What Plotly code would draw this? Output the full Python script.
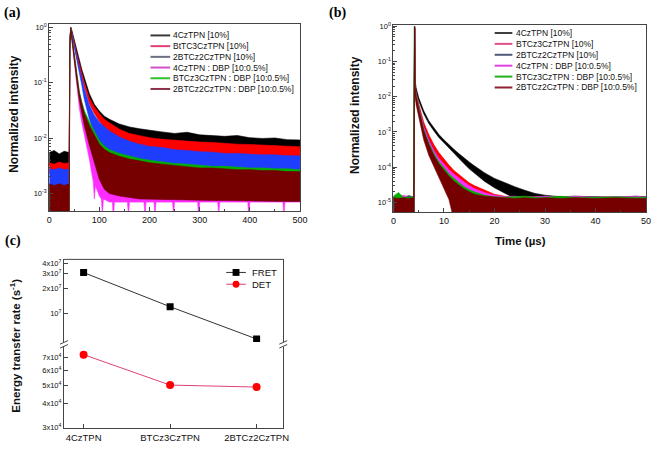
import plotly.graph_objects as go

# ---------------- DATA ----------------
# Panel (a): transient PL decay, 0-500 (time axis units as printed)
ta = [0, 10, 20, 30, 40, 41, 43, 45, 50, 55, 60, 65, 70, 80, 90, 100, 110, 120, 140, 160, 180,
      200, 225, 250, 275, 300, 325, 350, 375, 400, 425, 450, 475, 500]
a_black_up = [5.5e-3, 6e-3, 5.2e-3, 5.8e-3, 5.5e-3, 0.6, 1.0, 0.9, 0.6, 0.39, 0.25, 0.175, 0.125, 0.064, 0.041, 0.031, 0.025, 0.022, 0.018, 0.016, 0.0148,
              0.0138, 0.013, 0.0122, 0.0128, 0.0115, 0.0112, 0.0108, 0.0112, 0.0102, 0.0099, 0.0101, 0.0094, 0.0093]
a_black_lo = [3.2e-3, 3.4e-3, 3.2e-3, 3.3e-3, 3.2e-3, 0.5, 0.95, 0.8, 0.5, 0.33, 0.21, 0.145, 0.105, 0.052, 0.031, 0.022, 0.017, 0.0145, 0.012, 0.0105, 0.0095,
              0.0088, 0.0082, 0.0078, 0.0075, 0.0072, 0.007, 0.0068, 0.0066, 0.0064, 0.0063, 0.0062, 0.006, 0.0059]
a_red_up = [3.6e-3, 3.4e-3, 3.7e-3, 3.5e-3, 3.6e-3, 0.55, 1.0, 0.86, 0.54, 0.34, 0.22, 0.15, 0.1, 0.054, 0.037, 0.028, 0.022, 0.019, 0.0145, 0.0122, 0.011,
            0.0102, 0.0096, 0.0092, 0.0088, 0.0085, 0.0084, 0.008, 0.0078, 0.0077, 0.0075, 0.0073, 0.0073, 0.007]
a_red_lo = [2.3e-3, 2.4e-3, 2.3e-3, 2.4e-3, 2.3e-3, 0.45, 0.95, 0.76, 0.45, 0.28, 0.18, 0.12, 0.08, 0.042, 0.028, 0.02, 0.0155, 0.013, 0.0098, 0.0082, 0.0072,
            0.0066, 0.0061, 0.0058, 0.0055, 0.0053, 0.0051, 0.005, 0.0048, 0.0047, 0.0046, 0.0045, 0.0044, 0.0043]
a_blue_up = [2.8e-3, 2.7e-3, 2.9e-3, 2.7e-3, 2.8e-3, 0.5, 1.0, 0.84, 0.49, 0.3, 0.19, 0.12, 0.078, 0.04, 0.026, 0.0195, 0.016, 0.0135, 0.0105, 0.0088, 0.0078,
             0.0071, 0.0068, 0.0062, 0.006, 0.0057, 0.0056, 0.0053, 0.0053, 0.0051, 0.005, 0.005, 0.0048, 0.0048]
a_blue_lo = [1.3e-3, 1.4e-3, 1.3e-3, 1.4e-3, 1.3e-3, 0.4, 0.95, 0.74, 0.41, 0.24, 0.15, 0.09, 0.05, 0.022, 0.012, 0.0085, 0.0068, 0.006, 0.005, 0.0044, 0.004,
             0.0037, 0.0035, 0.0033, 0.0032, 0.0031, 0.003, 0.0029, 0.0028, 0.0027, 0.0027, 0.0026, 0.0025, 0.0025]
a_mag_up = [1.3e-3, 1.25e-3, 1.35e-3, 1.3e-3, 1.3e-3, 0.45, 1.0, 0.7, 0.29, 0.135, 0.062, 0.036, 0.024, 0.013, 0.0085, 0.0058, 0.0046, 0.004, 0.0035, 0.0032, 0.003,
            0.0029, 0.0028, 0.0027, 0.0026, 0.0026, 0.0025, 0.0025, 0.0024, 0.0024, 0.0023, 0.0023, 0.0023, 0.0022]
# magenta lower envelope has its own time points to show the deep downward noise spikes
ta_mag_lo = [0, 40, 41, 43, 45, 50, 55, 60, 65, 70, 80, 88, 90, 92, 100, 104, 106, 108, 120, 126, 128, 130,
             150, 156, 158, 160, 185, 189, 191, 193, 205, 209, 211, 213, 240, 246, 248, 250, 290, 296, 298, 300,
             330, 336, 338, 340, 390, 396, 398, 400, 450, 466, 468, 470, 500]
a_mag_lo = [2e-4, 2e-4, 0.38, 0.9, 0.55, 0.2, 0.085, 0.035, 0.019, 0.011, 0.0042, 0.0016, 0.0008, 0.0014, 0.0009, 0.0008, 0.0004, 0.0008, 0.0007, 0.0007, 0.00035, 0.0007,
            0.0007, 0.0007, 0.0004, 0.0007, 0.0007, 0.0007, 0.00035, 0.0007, 0.0007, 0.0007, 0.0004, 0.0007, 0.0007, 0.0007, 0.0004, 0.0007, 0.0007, 0.0007, 0.00035, 0.0007,
            0.0007, 0.0007, 0.0004, 0.0007, 0.0007, 0.0007, 0.00035, 0.0007, 0.0007, 0.0007, 0.0004, 0.0007, 0.0007]
a_green_up = [1.35e-3, 1.3e-3, 1.4e-3, 1.3e-3, 1.35e-3, 0.48, 1.0, 0.72, 0.31, 0.15, 0.072, 0.045, 0.032, 0.02, 0.0135, 0.009, 0.0072, 0.0062, 0.0053, 0.0047, 0.0043,
              0.004, 0.0037, 0.0035, 0.0034, 0.0032, 0.0031, 0.0031, 0.003, 0.0029, 0.0029, 0.0028, 0.0028, 0.0027]
a_green_lo = [3e-4, 3e-4, 3e-4, 3e-4, 3e-4, 0.4, 0.9, 0.6, 0.25, 0.115, 0.052, 0.03, 0.018, 0.008, 0.004, 0.002, 0.0014, 0.0012, 0.0011, 0.001, 0.001,
              0.001, 0.001, 0.001, 0.001, 0.001, 0.001, 0.001, 0.001, 0.001, 0.001, 0.001, 0.001, 0.001]
a_maroon_up = [1.5e-3, 1.4e-3, 1.5e-3, 1.4e-3, 1.5e-3, 0.46, 1.0, 0.7, 0.29, 0.14, 0.066, 0.041, 0.028, 0.017, 0.0115, 0.0078, 0.0063, 0.0055, 0.0047, 0.0042, 0.0039,
               0.0036, 0.0034, 0.0032, 0.0031, 0.0029, 0.0029, 0.0028, 0.0027, 0.0027, 0.0026, 0.0026, 0.0025, 0.0025]
a_maroon_lo = [2e-4, 2e-4, 2e-4, 2e-4, 2e-4, 0.4, 0.9, 0.6, 0.24, 0.11, 0.05, 0.028, 0.017, 0.0075, 0.0035, 0.0018, 0.0012, 0.001, 0.0009, 0.00085, 0.0008,
               0.0008, 0.00078, 0.00078, 0.00076, 0.00076, 0.00075, 0.00075, 0.00074, 0.00074, 0.00073, 0.00073, 0.00072, 0.00072]

# Panel (b): transient PL decay, 0-50 us
tb = [0, 1, 2, 3, 4.0, 4.1, 4.2, 4.3, 4.5, 5, 6, 7, 8, 9, 10, 11, 12, 13, 14, 15, 16, 18, 20, 22, 24, 26, 28, 30, 33, 36, 40, 44, 48, 50]
b_black_up = [1.45e-5, 1.5e-5, 1.4e-5, 1.55e-5, 1.45e-5, 1.0, 1.0, 0.03, 0.018, 9.5e-3, 4e-3, 2.1e-3, 1.3e-3, 8.5e-4, 6e-4, 4.3e-4, 3.2e-4, 2.4e-4, 1.8e-4, 1.4e-4, 1.1e-4,
              7e-5, 4.8e-5, 3.6e-5, 2.8e-5, 2.2e-5, 1.8e-5, 1.6e-5, 1.45e-5, 1.5e-5, 1.45e-5, 1.4e-5, 1.5e-5, 1.45e-5]
b_black_lo = [3e-6, 3e-6, 3e-6, 3e-6, 3e-6, 3e-6, 0.9, 0.022, 0.014, 7.8e-3, 3.3e-3, 1.75e-3, 1.08e-3, 7e-4, 4.8e-4, 3.4e-4, 2.4e-4, 1.75e-4, 1.25e-4, 9e-5, 6.8e-5,
              4e-5, 2.6e-5, 1.8e-5, 1.3e-5, 3e-6, 3e-6, 3e-6, 3e-6, 3e-6, 3e-6, 3e-6, 3e-6, 3e-6]
b_red_up = [1.4e-5, 1.35e-5, 1.4e-5, 1.35e-5, 1.4e-5, 1.0, 1.0, 0.025, 0.013, 6.5e-3, 1.9e-3, 8.5e-4, 4.4e-4, 2.6e-4, 1.7e-4, 1.15e-4, 8e-5, 6e-5, 4.6e-5, 3.6e-5, 3e-5,
            2.2e-5, 1.7e-5, 1.5e-5, 1.4e-5, 1.45e-5, 1.4e-5, 1.4e-5, 1.45e-5, 1.4e-5, 1.4e-5, 1.45e-5, 1.4e-5, 1.4e-5]
b_red_lo = [3e-6, 3e-6, 3e-6, 3e-6, 3e-6, 3e-6, 0.9, 0.019, 0.01, 5e-3, 1.4e-3, 6e-4, 2.9e-4, 1.6e-4, 9.5e-5, 6e-5, 4e-5, 2.8e-5, 2e-5, 1.5e-5, 1.2e-5,
            3e-6, 3e-6, 3e-6, 3e-6, 3e-6, 3e-6, 3e-6, 3e-6, 3e-6, 3e-6, 3e-6, 3e-6, 3e-6]
b_blue_up = [1.4e-5, 1.45e-5, 1.4e-5, 1.45e-5, 1.4e-5, 1.0, 1.0, 0.022, 0.011, 5.5e-3, 1.4e-3, 6e-4, 3e-4, 1.7e-4, 1.1e-4, 7.5e-5, 5.5e-5, 4.2e-5, 3.3e-5, 2.7e-5, 2.3e-5,
             1.8e-5, 1.5e-5, 1.4e-5, 1.4e-5, 1.4e-5, 1.4e-5, 1.4e-5, 1.4e-5, 1.4e-5, 1.4e-5, 1.4e-5, 1.4e-5, 1.4e-5]
b_blue_lo = [3e-6, 3e-6, 3e-6, 3e-6, 3e-6, 3e-6, 0.9, 0.016, 0.008, 4e-3, 9e-4, 3.7e-4, 1.8e-4, 1e-4, 6e-5, 4e-5, 2.8e-5, 2e-5, 1.5e-5, 1.2e-5, 3e-6,
             3e-6, 3e-6, 3e-6, 3e-6, 3e-6, 3e-6, 3e-6, 3e-6, 3e-6, 3e-6, 3e-6, 3e-6, 3e-6]
b_mag_up = [1.55e-5, 1.4e-5, 1.6e-5, 1.4e-5, 1.5e-5, 1.0, 1.0, 0.022, 0.011, 5.2e-3, 1.35e-3, 5.8e-4, 3e-4, 1.8e-4, 1.2e-4, 8.5e-5, 6.3e-5, 4.8e-5, 3.8e-5, 3e-5, 2.5e-5,
            1.9e-5, 1.6e-5, 1.45e-5, 1.5e-5, 1.4e-5, 1.45e-5, 1.5e-5, 1.4e-5, 1.5e-5, 1.4e-5, 1.45e-5, 1.5e-5, 1.4e-5]
b_mag_lo = [3e-6, 3e-6, 3e-6, 3e-6, 3e-6, 3e-6, 0.9, 0.016, 0.008, 4e-3, 9e-4, 3.7e-4, 1.8e-4, 1e-4, 6e-5, 4e-5, 2.8e-5, 2e-5, 1.5e-5, 1.2e-5, 3e-6,
            3e-6, 3e-6, 3e-6, 3e-6, 3e-6, 3e-6, 3e-6, 3e-6, 3e-6, 3e-6, 3e-6, 3e-6, 3e-6]
b_green_up = [1.5e-5, 1.9e-5, 1.4e-5, 1.45e-5, 1.45e-5, 1.0, 1.0, 0.021, 0.0105, 5e-3, 1.2e-3, 5e-4, 2.5e-4, 1.45e-4, 9.5e-5, 6.5e-5, 4.8e-5, 3.6e-5, 2.8e-5, 2.3e-5, 2e-5,
              1.6e-5, 1.45e-5, 1.4e-5, 1.45e-5, 1.5e-5, 1.4e-5, 1.4e-5, 1.5e-5, 1.4e-5, 1.4e-5, 1.45e-5, 1.4e-5, 1.4e-5]
b_green_lo = [3e-6, 3e-6, 3e-6, 3e-6, 3e-6, 3e-6, 0.9, 0.015, 0.0075, 3.5e-3, 8e-4, 3e-4, 1.4e-4, 7.5e-5, 4.5e-5, 3e-5, 2e-5, 1.5e-5, 3e-6, 3e-6, 3e-6,
              3e-6, 3e-6, 3e-6, 3e-6, 3e-6, 3e-6, 3e-6, 3e-6, 3e-6, 3e-6, 3e-6, 3e-6, 3e-6]
b_maroon_up = [1.35e-5, 1.3e-5, 1.35e-5, 1.3e-5, 1.35e-5, 1.0, 1.0, 0.02, 0.01, 4.8e-3, 1.1e-3, 4.5e-4, 2.2e-4, 1.25e-4, 8e-5, 5.5e-5, 4e-5, 3e-5, 2.4e-5, 2e-5, 1.7e-5,
               1.5e-5, 1.4e-5, 1.35e-5, 1.3e-5, 1.35e-5, 1.3e-5, 1.35e-5, 1.3e-5, 1.35e-5, 1.3e-5, 1.35e-5, 1.3e-5, 1.3e-5]
b_maroon_lo = [3e-6, 3e-6, 3e-6, 3e-6, 3e-6, 3e-6, 0.9, 0.012, 0.006, 3e-3, 6e-4, 2.2e-4, 1e-4, 5e-5, 2.5e-5, 1.2e-5, 3e-6, 3e-6, 3e-6, 3e-6, 3e-6,
               3e-6, 3e-6, 3e-6, 3e-6, 3e-6, 3e-6, 3e-6, 3e-6, 3e-6, 3e-6, 3e-6, 3e-6, 3e-6]

names_a = ["4CzTPN [10%]", "BtTC3CzTPN [10%]", "2BTCz2CzTPN [10%]",
           "4CzTPN : DBP [10:0.5%]", "BTCz3CzTPN : DBP [10:0.5%]", "2BTCz2CzTPN : DBP [10:0.5%]"]
names_b = ["4CzTPN [10%]", "BTCz3CzTPN [10%]", "2BTCz2CzTPN [10%]",
           "4CzTPN : DBP [10:0.5%]", "BTCz3CzTPN : DBP [10:0.5%]", "2BTCz2CzTPN : DBP [10:0.5%]"]

# Panel (c): energy transfer rates
cats_c = ["4CzTPN", "BTCz3CzTPN", "2BTCz2CzTPN"]
fret = [3.1e7, 1.2e7, 4.9e6]
det = [7.27e4, 5.02e4, 4.9e4]

# ---------------- STYLE ----------------
W, H = 660, 451
def px(x): return x / W
def py(y): return 1 - y / H

series_colors = ["#000000", "#ff0000", "#1f3dff", "#ff2cff", "#00b000", "#760000"]
leg_colors_a = ["#3a3a3a", "#e0407a", "#6a7080", "#d050c8", "#30c030", "#8a3048"]
leg_colors_b = ["#404040", "#e0508a", "#505878", "#e040e0", "#20b020", "#902030"]
AX = "#444444"
FONT = "Arial, Liberation Sans, sans-serif"

fig = go.Figure()

def add_band(t_up, up, t_lo, lo, color, xa, ya):
    xs = list(t_up) + list(t_lo)[::-1]
    ys = list(up) + list(lo)[::-1]
    fig.add_trace(go.Scatter(x=xs, y=ys, mode="lines", fill="toself", fillcolor=color,
                             line=dict(color=color, width=0.6), hoverinfo="skip",
                             showlegend=False, xaxis=xa, yaxis=ya))

bands_a = [(ta, a_black_up, ta, a_black_lo), (ta, a_red_up, ta, a_red_lo), (ta, a_blue_up, ta, a_blue_lo),
           (ta, a_mag_up, ta_mag_lo, a_mag_lo), (ta, a_green_up, ta, a_green_lo), (ta, a_maroon_up, ta, a_maroon_lo)]
bands_b = [(b_black_up, b_black_lo), (b_red_up, b_red_lo), (b_blue_up, b_blue_lo),
           (b_mag_up, b_mag_lo), (b_green_up, b_green_lo), (b_maroon_up, b_maroon_lo)]

for (tu, up, tl, lo), c in zip(bands_a, series_colors):
    add_band(tu, up, tl, lo, c, "x", "y")
for (up, lo), c in zip(bands_b, series_colors):
    add_band(tb, up, tb, lo, c, "x2", "y2")

fig.add_trace(go.Scatter(x=cats_c, y=fret, mode="lines+markers", name="FRET",
                         line=dict(color="#333333", width=1),
                         marker=dict(symbol="square", size=7, color="#000000"),
                         showlegend=False, xaxis="x3", yaxis="y5"))
fig.add_trace(go.Scatter(x=cats_c, y=det, mode="lines+markers", name="DET",
                         line=dict(color="#e0407a", width=1),
                         marker=dict(symbol="circle", size=8, color="#ff0000"),
                         showlegend=False, xaxis="x3", yaxis="y6"))

def log_minor(e0, e1):
    return [m * 10 ** e for e in range(e0, e1) for m in range(2, 10)]

common = dict(showline=True, linecolor=AX, linewidth=1, showgrid=False, zeroline=False,
              ticks="inside", tickcolor=AX, ticklen=4, ticklabeloverflow="allow",
              tickfont=dict(family=FONT, size=9, color="#111111"))
small = {**common, "tickfont": dict(family=FONT, size=7.5, color="#111111")}

fig.update_layout(
    width=W, height=H, margin=dict(l=0, r=0, t=0, b=0),
    paper_bgcolor="white", plot_bgcolor="white", showlegend=False,
    xaxis=dict(domain=[px(47), px(302)], range=[0, 500], anchor="y", mirror=True,
               dtick=100, minor=dict(ticks="inside", ticklen=2, dtick=50, tickcolor=AX), **common),
    yaxis=dict(domain=[py(211), py(20)], type="log", range=[-3.32, 0.07], anchor="x", mirror=True,
               tickvals=[1e-3, 1e-2, 1e-1, 1],
               ticktext=["10<sup>-3</sup>", "10<sup>-2</sup>", "10<sup>-1</sup>", "10<sup>0</sup>"],
               minor=dict(ticks="inside", ticklen=2, tickvals=log_minor(-4, 1), tickcolor=AX), **small),
    xaxis2=dict(domain=[px(397), px(654)], range=[0, 50], anchor="y2", mirror=True,
                dtick=10, minor=dict(ticks="inside", ticklen=2, dtick=5, tickcolor=AX), **common),
    yaxis2=dict(domain=[py(212), py(21)], type="log", range=[-5.28, 0.05], anchor="x2", mirror=True,
                tickvals=[1e-5, 1e-4, 1e-3, 1e-2, 1e-1, 1],
                ticktext=["10<sup>-5</sup>", "10<sup>-4</sup>", "10<sup>-3</sup>", "10<sup>-2</sup>",
                          "10<sup>-1</sup>", "10<sup>0</sup>"],
                minor=dict(ticks="inside", ticklen=2, tickvals=log_minor(-6, 1), tickcolor=AX), **small),
    xaxis3=dict(domain=[px(62), px(285)], anchor="y6", type="category", range=[-0.227, 2.308],
                categoryorder="array", categoryarray=cats_c,
                **{**common, "tickfont": dict(family=FONT, size=9.5, color="#111111")}),
    yaxis5=dict(domain=[py(344), py(260)], type="log", range=[6.655, 7.65], anchor="x3", mirror=True,
                tickvals=[1e7, 2e7, 3e7, 4e7],
                ticktext=["10<sup>7</sup>", "2x10<sup>7</sup>", "3x10<sup>7</sup>", "4x10<sup>7</sup>"],
                **small),
    yaxis6=dict(domain=[py(432), py(349)], type="log", range=[4.472, 4.903], anchor="x3", mirror=True,
                tickvals=[3e4, 4e4, 5e4, 6e4, 7e4, 8e4],
                ticktext=[f"{m}x10<sup>4</sup>" for m in (3, 4, 5, 6, 7, 8)],
                **small),
)

shapes = []
annotations = []

# manual legends for (a) and (b)
def legend(names, colors, x0, x1, xt, y0, dy):
    for i, (n, c) in enumerate(zip(names, colors)):
        y = y0 + i * dy
        shapes.append(dict(type="line", xref="paper", yref="paper", x0=px(x0), x1=px(x1),
                           y0=py(y), y1=py(y), line=dict(color=c, width=2)))
        annotations.append(dict(xref="paper", yref="paper", x=px(xt), y=py(y), text=n,
                                showarrow=False, xanchor="left", yanchor="middle",
                                font=dict(family=FONT, size=8.5, color="#111111")))

legend(names_a, leg_colors_a, 150, 170, 171, 32, 10.9)
legend(names_b, leg_colors_b, 500, 518, 520, 29.5, 11.1)

# (c) legend
for lbl, y, lc, mc, sym in [("FRET", 273.3, "#333333", "#000000", "rect"),
                            ("DET", 285.3, "#e0407a", "#ff0000", "circle")]:
    shapes.append(dict(type="line", xref="paper", yref="paper", x0=px(227), x1=px(247),
                       y0=py(y), y1=py(y), line=dict(color=lc, width=1)))
    r = 3.5
    shapes.append(dict(type=sym, xref="paper", yref="paper", x0=px(237 - r), x1=px(237 + r),
                       y0=py(y + r), y1=py(y - r), fillcolor=mc, line=dict(color=mc, width=0)))
    annotations.append(dict(xref="paper", yref="paper", x=px(251), y=py(y), text=lbl,
                            showarrow=False, xanchor="left", yanchor="middle",
                            font=dict(family=FONT, size=9.5, color="#111111")))

# (c) frame top line and axis breaks
shapes.append(dict(type="line", xref="paper", yref="paper", x0=px(62), x1=px(285),
                   y0=py(260), y1=py(260), line=dict(color=AX, width=1)))
for xb in (62, 285):
    for yb in (344.5, 348.5):
        shapes.append(dict(type="line", xref="paper", yref="paper", x0=px(xb - 4), x1=px(xb + 4),
                           y0=py(yb + 1.8), y1=py(yb - 1.8), line=dict(color=AX, width=1)))

# axis titles
def title(text, x, y, angle, size):
    annotations.append(dict(xref="paper", yref="paper", x=px(x), y=py(y), text=text,
                            showarrow=False, textangle=angle, xanchor="center", yanchor="middle",
                            font=dict(family=FONT, size=size, color="#111111")))

title("<b>Normalized intensity</b>", 11, 112, -90, 12)
title("<b>Normalized intensity</b>", 358, 113, -90, 12)
title("<b>Time (µs)</b>", 526, 241, 0, 11.5)
title("<b>Energy transfer rate (s<sup>-1</sup>)</b>", 12, 348, -90, 11.5)

# panel labels
for lbl, x, y in [("(a)", 10, 9), ("(b)", 340, 9), ("(c)", 10, 241)]:
    annotations.append(dict(xref="paper", yref="paper", x=px(x), y=py(y), text=f"<b>{lbl}</b>",
                            showarrow=False, xanchor="center", yanchor="middle",
                            font=dict(family="Liberation Serif, Times New Roman, serif", size=14, color="#000000")))

fig.update_layout(shapes=shapes, annotations=annotations)
fig.write_html("out.html", config={"displayModeBar": False, "staticPlot": True},
               post_script="document.body.style.margin='0px'; document.body.style.overflow='hidden';")
